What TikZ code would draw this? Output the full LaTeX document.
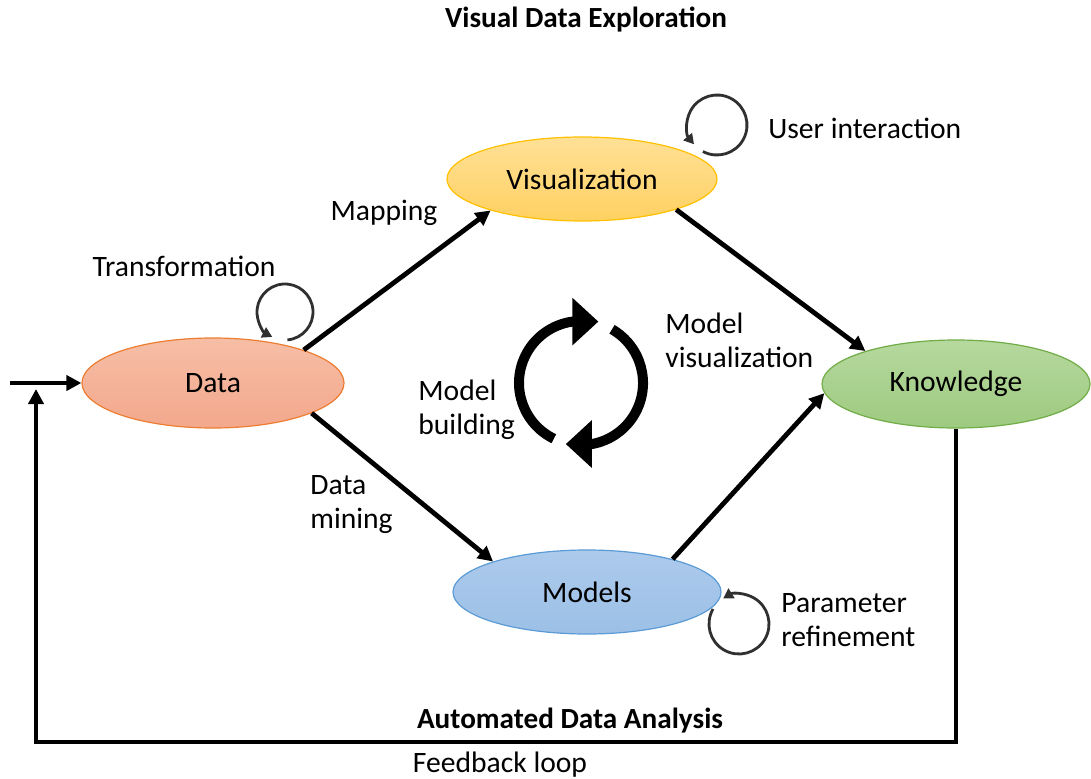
\documentclass[tikz,border=0pt]{standalone}
\usepackage{fontspec}
\setmainfont{Carlito}
\usetikzlibrary{shapes.geometric, arrows.meta}

\definecolor{dataline}{HTML}{ED7D31}
\definecolor{visline}{HTML}{FFC000}
\definecolor{knowline}{HTML}{70AD47}
\definecolor{modline}{HTML}{5B9BD5}
\definecolor{loopgray}{HTML}{303030}

\tikzset{
  stage/.style={ellipse, inner sep=0pt, line width=0.6pt, font=\fontsize{14.8}{17}\selectfont},
  lbl/.style={font=\fontsize{14.8}{17}\selectfont, align=left, inner sep=0pt},
  ttl/.style={font=\bfseries\fontsize{14.6}{17}\selectfont, inner sep=0pt},
  flow/.style={-{Triangle[length=7.5pt, width=7.5pt]}, line width=2.4pt},
  selfloop/.style={-{Triangle[length=5pt, width=5.5pt]}, line width=1.4pt, draw=loopgray},
  cycle/.style={-{Triangle[length=13pt, width=23pt]}, line width=5pt}
}

\begin{document}
\begin{tikzpicture}[x=0.5pt, y=0.5pt]
    \useasboundingbox (0,0) rectangle (1091,778);

    % stages
    \node[stage, draw=dataline, top color={rgb,255:red,246;green,190;blue,166}, bottom color={rgb,255:red,243;green,168;blue,140},
          minimum width=131pt, minimum height=45pt] (data) at (213,395) {Data};
    \node[stage, draw=visline, top color={rgb,255:red,255;green,224;blue,150}, bottom color={rgb,255:red,255;green,209;blue,98},
          minimum width=135pt, minimum height=42pt] (vis) at (582,599) {Visualization};
    \node[stage, draw=knowline, top color={rgb,255:red,182;green,216;blue,158}, bottom color={rgb,255:red,158;green,202;blue,128},
          minimum width=134pt, minimum height=44pt] (know) at (956,394) {Knowledge};
    \node[stage, draw=modline, top color={rgb,255:red,172;green,202;blue,236}, bottom color={rgb,255:red,156;green,192;blue,230},
          minimum width=134pt, minimum height=42pt] (models) at (587,186) {Models};

    % titles and labels
    \node[ttl] (explore) at (586,758) {Visual Data Exploration};
    \node[ttl] (auto) at (570,57) {Automated Data Analysis};
    \node[lbl] (feedback) at (500,13) {Feedback loop};
    \node[lbl, anchor=west] (interact) at (768,650) {User interaction};
    \node[lbl] (mapping) at (384,565) {Mapping};
    \node[lbl] (transform) at (184,512) {Transformation};
    \node[lbl, anchor=west] (modvis) at (665,438) {Model\\visualization};
    \node[lbl, anchor=west] (modbuild) at (418,368) {Model\\building};
    \node[lbl, anchor=west] (mining) at (310,273) {Data\\mining};
    \node[lbl, anchor=west] (refine) at (781,158) {Parameter\\refinement};

    % main flows
    \draw[flow] (data.20) -- (vis.199);
    \draw[flow] (vis.342) -- (know.160);
    \draw[flow] (data.343) -- (models.162);
    \draw[flow] (models.21) -- (know.184);

    % input and feedback loop
    \coordinate (input) at (10,395);
    \coordinate (fbright) at (know.south |- 0,36);
    \coordinate (fbleft) at (36,36);
    \coordinate (fbtop) at (36,389);
    \draw[flow] (input) -- (data.west);
    \draw[flow] (know.south) -- (fbright) -- (fbleft) -- (fbtop);

    % self loops
    \coordinate (tloop) at (285,466);
    \coordinate (uloop) at (717,653);
    \coordinate (ploop) at (739,154);
    \draw[selfloop] (tloop) ++(-85:14pt) arc[start angle=-85, end angle=243, radius=14pt];
    \draw[selfloop] (uloop) ++(-118:15pt) arc[start angle=-118, end angle=220, radius=15pt];
    \draw[selfloop] (ploop) ++(150:15pt) arc[start angle=150, end angle=482, radius=15pt];

    % model building / visualization cycle
    \coordinate (cyc) at (581,395);
    \draw[cycle] (cyc) ++(244:31pt) arc[start angle=244, end angle=98, radius=31pt] -- ++(13pt,0);
    \draw[cycle] (cyc) ++(60:31pt) arc[start angle=60, end angle=-80, radius=31pt] -- ++(-13pt,0);
\end{tikzpicture}
\end{document}
